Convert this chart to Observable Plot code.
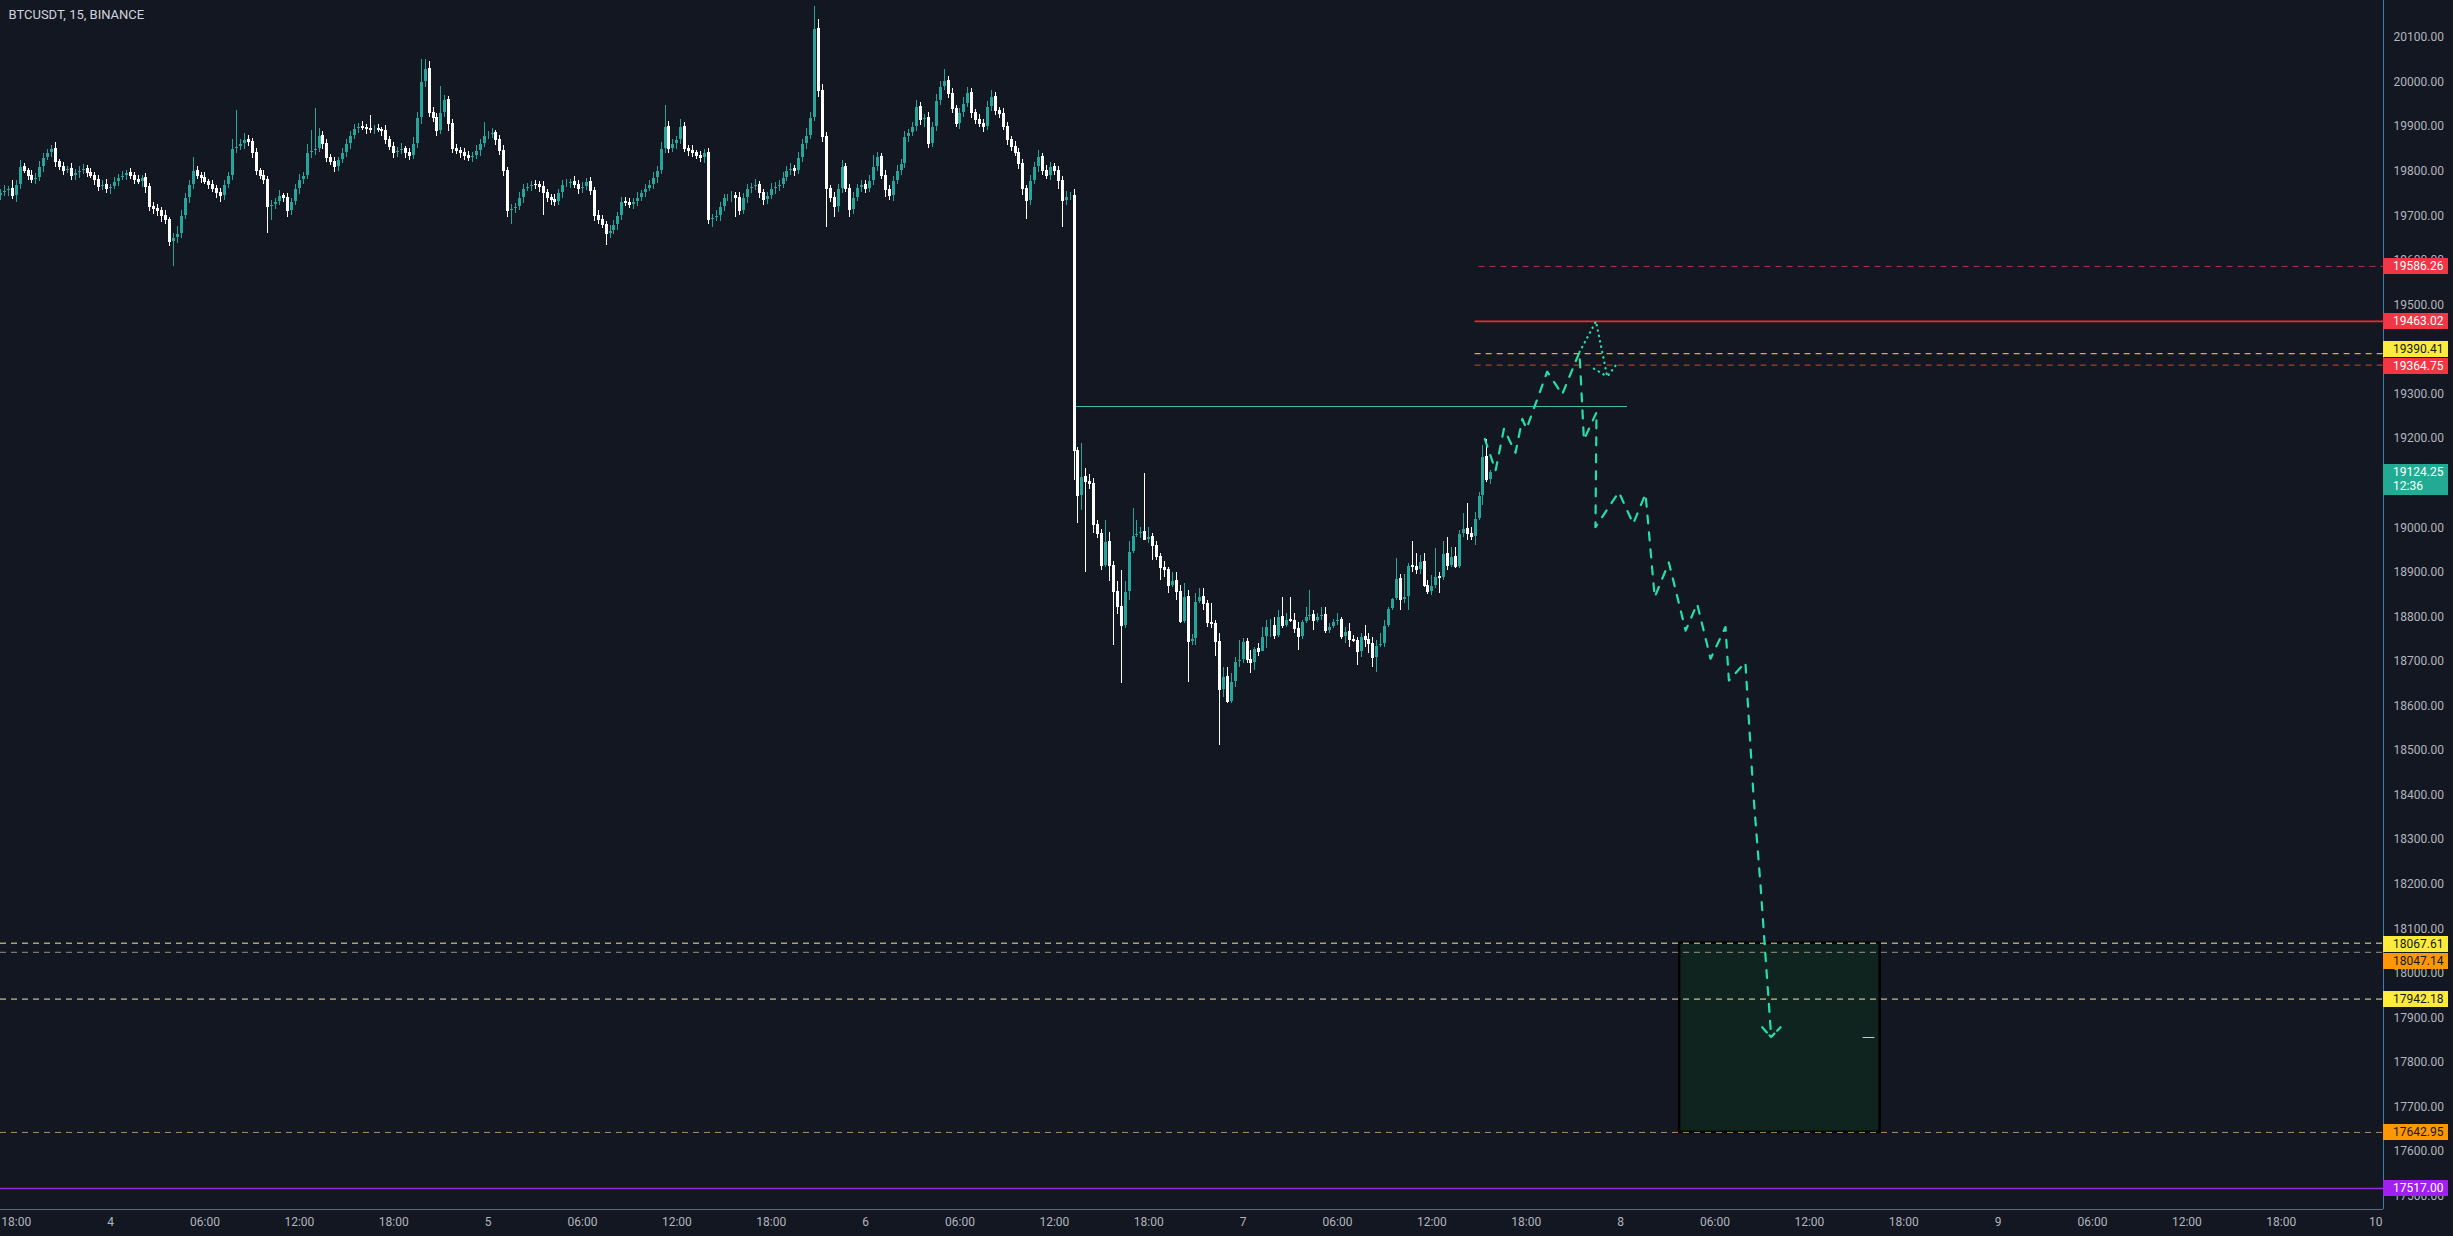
<!DOCTYPE html>
<html><head><meta charset="utf-8">
<script src="https://cdn.jsdelivr.net/npm/d3@7"></script>
<script src="https://cdn.jsdelivr.net/npm/@observablehq/plot@0.6"></script>
<style>
html,body{margin:0;padding:0;background:#131722;overflow:hidden}
#chart svg{display:block}
</style></head><body><div id="chart"></div>
<script>
// ---------------- DATA ----------------
const symbolTitle = "BTCUSDT, 15, BINANCE";
const firstCandle = "2022-09-03T17:00:00Z";   // 15-minute candles
const firstOpen = 19745;
const closes = [
19750,19755,19760,19745,19770,19810,19800,19790,19780,19785,
19810,19830,19840,19850,19820,19810,19800,19805,19790,19795,
19800,19805,19795,19790,19780,19765,19770,19760,19765,19775,
19785,19790,19795,19790,19780,19775,19785,19765,19720,19715,
19710,19700,19690,19640,19650,19660,19700,19740,19770,19800,
19790,19785,19775,19770,19760,19750,19745,19770,19790,19850,
19855,19860,19870,19865,19840,19800,19790,19780,19720,19725,
19730,19745,19740,19710,19730,19760,19780,19790,19840,19845,
19850,19880,19860,19830,19820,19810,19825,19840,19860,19880,
19895,19900,19898,19895,19893,19895,19892,19890,19870,19855,
19840,19845,19850,19840,19835,19860,19920,20000,20030,19930,
19920,19890,19930,19960,19905,19850,19845,19840,19835,19830,
19835,19845,19860,19880,19882,19885,19870,19845,19800,19710,
19715,19720,19740,19760,19765,19770,19768,19765,19750,19740,
19735,19730,19750,19770,19772,19775,19770,19760,19765,19775,
19755,19700,19690,19680,19660,19665,19680,19700,19730,19728,
19725,19730,19740,19750,19760,19770,19785,19800,19850,19900,
19850,19860,19870,19900,19850,19845,19840,19835,19830,19840,
19690,19695,19700,19720,19740,19742,19745,19740,19710,19740,
19760,19765,19770,19750,19735,19745,19760,19765,19770,19785,
19800,19805,19800,19830,19860,19880,19920,20120,19980,19876,
19760,19740,19720,19760,19809,19760,19712,19740,19763,19770,
19760,19779,19810,19831,19790,19757,19745,19779,19800,19816,
19876,19885,19899,19943,19914,19920,19861,19900,19958,19990,
20003,19974,19940,19906,19930,19950,19975,19930,19915,19905,
19899,19944,19966,19936,19929,19900,19870,19855,19840,19816,
19760,19734,19779,19810,19831,19800,19790,19810,19800,19779,
19734,19742,19745,
19173,19072,19113,19102,19097,19005,18986,18915,18967,18915,
18855,18822,18780,18855,18945,18982,18986,18990,18973,18979,
18958,18934,18910,18906,18870,18881,18855,18788,18844,18743,
18750,18833,18844,18829,18786,18784,18743,18635,18665,18608,
18653,18698,18702,18743,18702,18696,18728,18720,18754,18777,
18780,18758,18799,18780,18792,18790,18773,18754,18788,18799,
18803,18790,18799,18803,18769,18777,18788,18792,18754,18765,
18747,18746,18720,18754,18747,18739,18708,18735,18739,18780,
18818,18840,18885,18837,18845,18915,18911,18905,18922,18870,
18855,18870,18889,18887,18941,18915,18935,18911,18986,18997,
18985,18980,19020,19072,19158,19106,19124.25
];
// wick lengths (USD) above / below the body, first 273 candles
const wickUpEarly = [
8,12,6,20,10,15,8,5,12,10, 12,10,8,8,15,6,10,5,12,8, 10,11,8,12,6,10,8,12,6,10,
8,10,6,12,8,10,6,10,8,10, 10,8,12,6,10,15,12,10,8,31, 10,8,12,6,10,8,12,10,8,20,
81,12,15,10,8,10,6,12,8,10, 8,12,6,10,8,10,12,8,20,46, 90,15,10,12,8,10,6,12,10,8,
10,8,12,6,30,8,10,6,12,8, 10,8,12,6,10,15,12,50,20,15, 12,10,60,10,8,12,10,8,12,10,
8,12,10,30,8,10,6,10,12,8, 10,8,12,10,8,6,10,8,12,10, 8,12,10,8,10,6,12,8,10,8,
10,8,12,10,8,12,10,8,12,10, 10,8,12,6,10,8,12,10,15,47, 12,10,8,15,10,8,12,6,10,8,
10,8,12,10,8,6,10,8,12,10, 10,8,12,6,10,8,12,10,8,12, 10,12,8,12,10,15,12,50,20,15,
10,8,12,10,15,8,10,12,8,10, 10,12,26,10,8,12,10,8,12,10, 12,8,10,15,10,8,12,10,15,12,
25,10,12,8,10,15,12,10,8,12, 10,12,15,10,8,12,10,8,12,10, 10,8,12,10,15,8,12,10,8,10,
10,12,8
];
const wickDownEarly = [
10,6,12,8,15,10,6,12,8,10, 8,12,6,10,12,8,10,6,10,12, 12,8,10,6,12,10,8,10,12,6,
10,6,12,8,10,6,12,15,10,12, 12,15,10,10,55,12,10,8,12,10, 8,12,6,10,8,12,15,10,8,10,
10,8,12,10,12,10,8,10,60,30, 12,8,10,15,10,8,12,10,8,12, 10,8,12,10,8,12,10,8,10,12,
8,10,6,12,8,10,6,12,10,8, 12,10,8,12,10,8,10,15,12,10, 10,12,8,10,15,10,8,12,10,8,
10,8,12,6,10,8,12,10,12,15, 30,10,8,12,6,10,8,12,50,10, 12,10,8,12,6,10,8,12,10,8,
10,12,10,8,27,10,8,12,10,8, 8,12,10,8,10,6,10,12,8,10, 10,8,12,10,8,12,10,8,10,12,
10,16,8,12,10,8,12,43,10,8, 12,10,8,12,12,10,8,12,10,8, 8,10,12,8,10,12,10,8,15,12,
86,10,23,12,10,8,15,10,8,10, 10,8,12,10,8,15,10,12,8,10, 10,12,8,10,12,15,10,8,12,10,
10,12,10,8,12,10,8,12,10,8, 12,8,10,12,10,8,12,10,8,12, 15,42,10,8,12,10,8,12,10,20,
60,10,8
];
// highs / lows of the last 107 candles (after the 13:15 drop)
const highsLate = [
19760,19180,19188,19132,19120,19110,19016,18995,19016,18990,
18925,18880,18905,18880,18970,19042,19016,19000,19121,19001,
18986,18968,18941,18923,18911,18900,18900,18870,18874,18859,
18760,18852,18863,18863,18837,18829,18792,18762,18687,18687,
18672,18709,18747,18751,18751,18725,18732,18739,18777,18792,
18795,18799,18814,18844,18807,18844,18807,18788,18792,18822,
18859,18814,18807,18822,18822,18784,18795,18807,18799,18777,
18784,18758,18754,18762,18780,18762,18754,18747,18762,18792,
18822,18840,18930,18896,18896,18919,18968,18941,18938,18941,
18881,18893,18953,18900,18968,18979,18956,18956,18994,19031,
19054,19001,19035,19080,19184,19199,19128
];
const lowsLate = [
19106,19009,19039,18900,19085,18986,18975,18905,18910,18880,
18735,18805,18650,18773,18836,18941,18978,18975,18971,18964,
18926,18926,18882,18889,18852,18866,18837,18784,18784,18653,
18735,18735,18829,18814,18777,18773,18710,18511,18620,18605,
18605,18642,18687,18695,18695,18672,18680,18710,18724,18728,
18754,18750,18754,18773,18777,18788,18762,18724,18750,18784,
18792,18769,18788,18792,18762,18762,18773,18780,18750,18739,
18732,18743,18691,18709,18732,18717,18687,18676,18732,18732,
18777,18814,18836,18814,18829,18814,18900,18896,18896,18866,
18851,18848,18863,18852,18881,18904,18911,18908,18908,18979,
18971,18971,18960,19016,19050,19102,19098
];
const lastPrice = 19124.25;
const lastCountdown = "12:36";

const yTicks = [20100,20000,19900,19800,19700,19600,19500,19300,19200,19000,
  18900,18800,18700,18600,18500,18400,18300,18200,18100,18000,17900,17800,17700,17600,17500];
const xTicks = ["2022-09-03T18:00Z","2022-09-04T00:00Z","2022-09-04T06:00Z","2022-09-04T12:00Z","2022-09-04T18:00Z",
  "2022-09-05T00:00Z","2022-09-05T06:00Z","2022-09-05T12:00Z","2022-09-05T18:00Z",
  "2022-09-06T00:00Z","2022-09-06T06:00Z","2022-09-06T12:00Z","2022-09-06T18:00Z",
  "2022-09-07T00:00Z","2022-09-07T06:00Z","2022-09-07T12:00Z","2022-09-07T18:00Z",
  "2022-09-08T00:00Z","2022-09-08T06:00Z","2022-09-08T12:00Z","2022-09-08T18:00Z",
  "2022-09-09T00:00Z","2022-09-09T06:00Z","2022-09-09T12:00Z","2022-09-09T18:00Z","2022-09-10T00:00Z"];
const xTickLabels = ["18:00","4","06:00","12:00","18:00","5","06:00","12:00","18:00","6","06:00","12:00","18:00",
  "7","06:00","12:00","18:00","8","06:00","12:00","18:00","9","06:00","12:00","18:00","10"];

const levelPrices = [19586.26, 19463.02, 19390.41, 19364.75, 18067.61, 18047.14, 17942.18, 17642.95, 17517.00];
const levelStarts = ["2022-09-07T15:00Z","2022-09-07T14:45Z","2022-09-07T14:45Z","2022-09-07T14:45Z",
  "2022-09-03T17:00Z","2022-09-03T17:00Z","2022-09-03T17:00Z","2022-09-03T17:00Z","2022-09-03T17:00Z"];

const breakLevel = 19272;
const breakStart = "2022-09-06T13:15Z";
const breakEnd = "2022-09-08T00:25Z";

const boxStart = "2022-09-08T03:45Z";
const boxEnd = "2022-09-08T16:30Z";
const boxTop = 18067.61;
const boxBottom = 17642.95;
const boxMarkPrice = 17856;
const boxMarkStart = "2022-09-08T15:25Z";
const boxMarkEnd = "2022-09-08T16:10Z";

const pathTimes = ["2022-09-07T15:22Z","2022-09-07T16:03Z","2022-09-07T16:35Z","2022-09-07T17:19Z","2022-09-07T17:45Z",
  "2022-09-07T18:01Z","2022-09-07T19:20Z","2022-09-07T20:17Z","2022-09-07T21:23Z","2022-09-07T21:40Z",
  "2022-09-07T22:28Z","2022-09-07T22:24Z","2022-09-07T23:53Z","2022-09-08T00:48Z","2022-09-08T01:35Z",
  "2022-09-08T02:10Z","2022-09-08T03:04Z","2022-09-08T04:08Z","2022-09-08T04:52Z","2022-09-08T05:43Z",
  "2022-09-08T06:40Z","2022-09-08T06:53Z","2022-09-08T07:56Z","2022-09-08T08:03Z","2022-09-08T08:27Z",
  "2022-09-08T08:54Z","2022-09-08T09:13Z","2022-09-08T09:34Z"];
const pathPrices = [19199,19128,19222,19168,19244,19222,19350,19299,19394,19197,
  19259,19001,19080,19009,19076,18844,18922,18769,18829,18706,
  18777,18657,18698,18628,18397,18195,18035,17860];
const arrowTimes = ["2022-09-08T09:00Z","2022-09-08T09:34Z","2022-09-08T10:10Z"];
const arrowPrices = [17879,17857,17879];
const dotTimes = ["2022-09-07T21:23Z","2022-09-07T22:26Z","2022-09-07T23:09Z","2022-09-07T23:41Z"];
const dotPrices = [19394,19463,19339,19364];
const dot2Times = ["2022-09-07T22:18Z","2022-09-07T23:09Z"];
const dot2Prices = [19357,19339];

// ---------------- BUILD ----------------
const UP = "#26a69a", DOWN = "#ffffff";
const t0 = new Date(firstCandle).getTime();
const lateStart = closes.length - highsLate.length;
const candles = closes.map((c, i) => {
  const o = i === 0 ? firstOpen : closes[i - 1];
  const j = i - lateStart;
  const h = j >= 0 ? highsLate[j] : Math.max(o, c) + wickUpEarly[i];
  const l = j >= 0 ? lowsLate[j] : Math.min(o, c) - wickDownEarly[i];
  return {t: new Date(t0 + i * 15 * 60000), o, h, l, c, col: c >= o ? UP : DOWN};
});

const xDomain = [new Date("2022-09-03T17:00:00Z"), new Date("2022-09-10T00:30:00Z")];
const yDomain = [17470, 20183];

const levels = levelPrices.map((p, i) => ({p, x1: new Date(levelStarts[i]), x2: xDomain[1]}));
const levelStyle = [
  {stroke: "#e0404c", dash: "6,5", op: 0.75, w: 1},
  {stroke: "#f7262b", dash: null, op: 1, w: 1.6},
  {stroke: "#ffe94a", dash: "6,5", op: 0.95, w: 1},
  {stroke: "#f0513f", dash: "6,5", op: 0.85, w: 1},
  {stroke: "#fff59d", dash: "6,5", op: 0.95, w: 1},
  {stroke: "#b0a595", dash: "6,5", op: 0.85, w: 1},
  {stroke: "#fff59d", dash: "6,5", op: 0.95, w: 1},
  {stroke: "#d4a878", dash: "6,5", op: 0.8, w: 1},
  {stroke: "#8e2de2", dash: null, op: 1, w: 1.4}
];
const labelStyle = [
  {bg: "#f23645", fg: "#ffffff", dy: 0},
  {bg: "#f23645", fg: "#ffffff", dy: 0},
  {bg: "#ffeb3b", fg: "#131722", dy: -4},
  {bg: "#f23645", fg: "#ffffff", dy: 1},
  {bg: "#ffeb3b", fg: "#131722", dy: 1},
  {bg: "#ff9800", fg: "#131722", dy: 9},
  {bg: "#ffeb3b", fg: "#131722", dy: 0},
  {bg: "#ff9800", fg: "#131722", dy: 0},
  {bg: "#a11ff0", fg: "#ffffff", dy: 0}
];

const toPts = (ts, ps) => ts.map((t, i) => ({t: new Date(t), p: ps[i]}));
const pathPts = toPts(pathTimes, pathPrices);
const arrowPts = toPts(arrowTimes, arrowPrices);
const dotPts = toPts(dotTimes, dotPrices);
const dot2Pts = toPts(dot2Times, dot2Prices);

const levelMarks = levels.map((L, i) => Plot.ruleY([L], {
  y: "p", x1: "x1", x2: "x2",
  stroke: levelStyle[i].stroke, strokeOpacity: levelStyle[i].op, strokeWidth: levelStyle[i].w,
  strokeDasharray: levelStyle[i].dash || undefined
}));

function priceLabels(index, scales, values, dims) {
  const g = d3.create("svg:g")
    .attr("font-family", "Roboto, 'Liberation Sans', sans-serif")
    .attr("font-size", 12).attr("text-anchor", "start");
  const x0 = dims.width - dims.marginRight;
  const draw = (price, bg, fg, lines, dy) => {
    const y = Math.round(scales.y(price)) + dy;
    const h = lines.length > 1 ? 31 : 16;
    g.append("rect").attr("x", x0).attr("y", y - 8).attr("width", 65).attr("height", h).attr("fill", bg);
    lines.forEach((s, k) => g.append("text").attr("x", x0 + 10).attr("y", y + k * 14)
      .attr("dy", "0.36em").attr("fill", fg).attr("text-anchor", "start").text(s));
  };
  draw(lastPrice, "#22ab94", "#ffffff", [lastPrice.toFixed(2), lastCountdown], 0);
  levelPrices.forEach((p, i) => draw(p, labelStyle[i].bg, labelStyle[i].fg, [p.toFixed(2)], labelStyle[i].dy));
  return g.node();
}

const chart = Plot.plot({
  width: 2453, height: 1236,
  marginLeft: 0, marginRight: 70, marginTop: 0, marginBottom: 27,
  style: {background: "#131722", color: "#b2b5be", fontFamily: "Roboto, 'Liberation Sans', sans-serif", fontSize: "12px"},
  x: {type: "utc", domain: xDomain},
  y: {domain: yDomain},
  marks: [
    Plot.rect([{x1: new Date(boxStart), x2: new Date(boxEnd), y1: boxBottom, y2: boxTop}],
      {x1: "x1", x2: "x2", y1: "y1", y2: "y2", fill: "#10241f", stroke: "#000000", strokeWidth: 2.5}),
    ...levelMarks,
    Plot.ruleY([boxMarkPrice], {x1: new Date(boxMarkStart), x2: new Date(boxMarkEnd), stroke: "#c8ccd4", strokeWidth: 1}),
    Plot.ruleY([breakLevel], {x1: new Date(breakStart), x2: new Date(breakEnd), stroke: "#3fbcb4", strokeWidth: 1, shapeRendering: "crispEdges"}),
    Plot.ruleX(candles, {x: "t", y1: "l", y2: "h", stroke: "col", strokeWidth: 1, shapeRendering: "crispEdges"}),
    Plot.ruleX(candles, {x: "t", y1: "o", y2: "c", stroke: "col", strokeWidth: 3, insetTop: -0.5, insetBottom: -0.5, shapeRendering: "crispEdges"}),
    Plot.line(pathPts, {x: "t", y: "p", stroke: "#26dfa8", strokeWidth: 2.2, strokeDasharray: "8,9"}),
    Plot.line(arrowPts, {x: "t", y: "p", stroke: "#26dfa8", strokeWidth: 2.2, strokeDasharray: "7,4"}),
    Plot.line(dotPts, {x: "t", y: "p", stroke: "#26dfa8", strokeWidth: 2.2, strokeDasharray: "0.5,5", strokeLinecap: "round"}),
    Plot.line(dot2Pts, {x: "t", y: "p", stroke: "#26dfa8", strokeWidth: 2.2, strokeDasharray: "0.5,5", strokeLinecap: "round"}),
    Plot.ruleX([xDomain[1]], {stroke: "#3d7bb0", strokeWidth: 1, shapeRendering: "crispEdges"}),
    Plot.ruleY([yDomain[0]], {stroke: "#5a6b80", strokeWidth: 1, shapeRendering: "crispEdges"}),
    Plot.axisX({ticks: xTicks.map(d => new Date(d)), tickFormat: (d, i) => xTickLabels[i], tickSize: 0, tickPadding: 8, label: null, fill: "#b2b5be"}),
    Plot.axisY({anchor: "right", ticks: yTicks, tickFormat: d => d.toFixed(2), tickSize: 0, tickPadding: 10, label: null, fill: "#b2b5be"}),
    priceLabels,
    Plot.text([symbolTitle], {frameAnchor: "top-left", dx: 8, dy: 9, lineAnchor: "top", textAnchor: "start", fill: "#d1d4dc", fontSize: 13})
  ]
});
document.getElementById("chart").appendChild(chart);
</script>
</body></html>
